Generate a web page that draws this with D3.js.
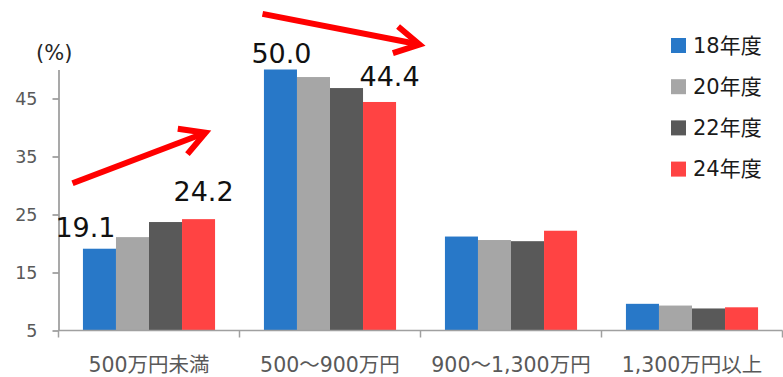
<!DOCTYPE html>
<html>
<head>
<meta charset="utf-8">
<script src="https://cdn.jsdelivr.net/npm/d3@7/dist/d3.min.js"></script>
<style>
  html, body { margin: 0; padding: 0; background: #fff; }
  svg { display: block; }
  text { font-family: "DejaVu Sans", Verdana, "Noto Sans CJK JP", sans-serif; }
</style>
</head>
<body>
<svg id="chart" width="783" height="377"></svg>
<script>
// Income brackets on the x axis
const categories = ["500万円未満", "500～900万円", "900～1,300万円", "1,300万円以上"];
// Survey years (legend)
const seriesNames = ["18年度", "20年度", "22年度", "24年度"];
// Share (%) per bracket, one array per survey year
const values18 = [19.1, 50.0, 21.2, 9.6];
const values20 = [21.1, 48.7, 20.6, 9.3];
const values22 = [23.7, 46.8, 20.4, 8.8];
const values24 = [24.2, 44.4, 22.2, 9.0];
const yTicks = [5, 15, 25, 35, 45];
const colors = ["#2878c8", "#a6a6a6", "#595959", "#ff4343"];

// Values called out above the bars: [category index, series index]
const callouts = [[0, 0], [0, 3], [1, 0], [1, 3]];
// Offsets of each callout relative to its bar top (px)
const calloutOffsets = [[-14, -12], [5, -18], [1, -7], [10, -16]];

// Trend arrows, given in data space: [category index, x offset in px, value]
const arrows = [
  { from: [0, 14, 30.4], to: [0, 147, 39.1] },
  { from: [1, 23, 59.6], to: [1, 180, 54.3] }
];

const seriesValues = [values18, values20, values22, values24];
const rows = categories.map((c, i) => ({
  category: c,
  values: seriesNames.map((s, j) => ({ series: s, index: j, value: seriesValues[j][i] }))
}));

const svg = d3.select("#chart");

const x0 = d3.scaleBand().domain(categories).range([58.5, 782.5]).padding(0);
const x1 = d3.scaleBand().domain(seriesNames).range([0, x0.bandwidth()])
  .paddingInner(0).paddingOuter(0.74);
const y = d3.scaleLinear().domain([5, 50]).range([330.5, 69.5]);

// Bars
const groups = svg.append("g").selectAll("g")
  .data(rows).join("g")
  .attr("transform", d => `translate(${x0(d.category)},0)`);

groups.selectAll("rect")
  .data(d => d.values).join("rect")
  .attr("x", d => x1(d.series))
  .attr("y", d => y(d.value))
  .attr("width", x1.bandwidth())
  .attr("height", d => y(5) - y(d.value))
  .attr("fill", d => colors[d.index]);

// Y axis
const yAxis = svg.append("g")
  .attr("transform", `translate(${x0.range()[0]},0)`)
  .call(d3.axisLeft(y).tickValues(yTicks).tickSize(6).tickPadding(15).tickSizeOuter(0));
yAxis.select(".domain").attr("stroke", "#8c8c8c").attr("stroke-width", 1.5);
yAxis.selectAll(".tick line").attr("stroke", "#8c8c8c").attr("stroke-width", 1.5);
yAxis.selectAll(".tick text").attr("fill", "#595959").attr("font-size", 17.5)
  .style("font-family", '"DejaVu Sans", Verdana, sans-serif');

svg.append("text")
  .attr("x", 36).attr("y", 60)
  .attr("font-size", 21).attr("fill", "#262626")
  .text("(%)");

// X axis: baseline with ticks on band boundaries
const xAxis = svg.append("g");
xAxis.append("line")
  .attr("x1", x0.range()[0]).attr("x2", x0.range()[1])
  .attr("y1", y(5)).attr("y2", y(5))
  .attr("stroke", "#a0a0a0").attr("stroke-width", 1.5);
const bounds = categories.map(c => x0(c)).concat([x0.range()[1]]);
xAxis.selectAll("line.tk").data(bounds).join("line")
  .attr("class", "tk")
  .attr("x1", d => d).attr("x2", d => d)
  .attr("y1", y(5)).attr("y2", y(5) + 7)
  .attr("stroke", "#a0a0a0").attr("stroke-width", 1.5);
xAxis.selectAll("text").data(categories).join("text")
  .attr("x", d => x0(d) + x0.bandwidth() / 2)
  .attr("y", 372)
  .attr("text-anchor", "middle")
  .attr("font-size", 20.5)
  .attr("fill", "#595959")
  .style("font-family", '"DejaVu Sans", "Noto Sans CJK JP", sans-serif')
  .text(d => d);

// Value callouts
const fmt = d3.format(".1f");
svg.append("g").selectAll("text")
  .data(callouts).join("text")
  .attr("x", (d, i) => x0(categories[d[0]]) + x1(seriesNames[d[1]]) + x1.bandwidth() / 2 + calloutOffsets[i][0])
  .attr("y", (d, i) => y(seriesValues[d[1]][d[0]]) + calloutOffsets[i][1])
  .attr("text-anchor", "middle")
  .attr("font-size", 27)
  .attr("fill", "#111")
  .text(d => fmt(seriesValues[d[1]][d[0]]));

// Trend arrows
const pt = p => [x0(categories[p[0]]) + p[1], y(p[2])];
const arrowG = svg.append("g")
  .attr("fill", "none").attr("stroke", "#ff0000").attr("stroke-width", 6)
  .attr("stroke-linejoin", "miter");
arrows.forEach(a => {
  const [sx, sy] = pt(a.from);
  const [tx, ty] = pt(a.to);
  const ang = Math.atan2(sy - ty, sx - tx);
  const len = 28, spread = Math.PI / 6.2;
  const w1 = [tx + len * Math.cos(ang + spread), ty + len * Math.sin(ang + spread)];
  const w2 = [tx + len * Math.cos(ang - spread), ty + len * Math.sin(ang - spread)];
  arrowG.append("path").attr("d", `M${sx},${sy}L${tx},${ty}`);
  arrowG.append("path").attr("d", `M${w1[0]},${w1[1]}L${tx},${ty}L${w2[0]},${w2[1]}`);
});

// Legend
const legend = svg.append("g").selectAll("g")
  .data(seriesNames).join("g")
  .attr("transform", (d, i) => `translate(671,${38 + i * 41.2})`);
legend.append("rect")
  .attr("width", 15).attr("height", 15)
  .attr("fill", (d, i) => colors[i]);
legend.append("text")
  .attr("x", 22).attr("y", 14.5)
  .attr("font-size", 21).attr("fill", "#1a1a1a")
  .style("font-family", '"DejaVu Sans", "Noto Sans CJK JP", sans-serif')
  .text(d => d);
</script>
</body>
</html>
